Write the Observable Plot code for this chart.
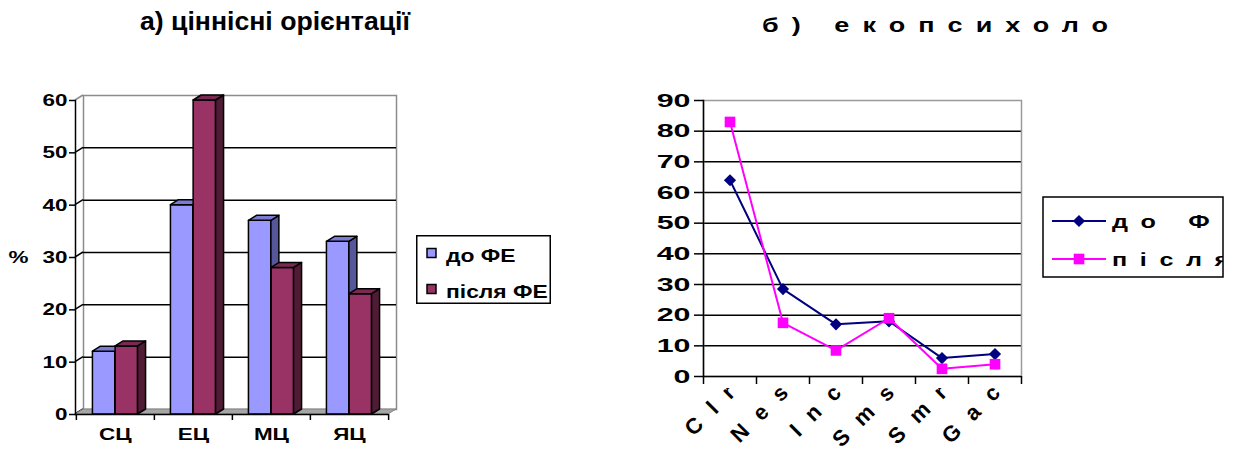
<!DOCTYPE html>
<html lang="uk">
<head>
<meta charset="utf-8">
<script src="https://cdn.jsdelivr.net/npm/d3@7"></script>
<script src="https://cdn.jsdelivr.net/npm/@observablehq/plot@0.6"></script>
<style>
  html, body { margin: 0; background: #fff; }
  #page { position: relative; width: 1238px; height: 452px; overflow: hidden; }
  #page > svg { position: absolute; top: 0; }
</style>
</head>
<body>
<div id="page"></div>
<script>
// Panel а: value orientations, % of respondents
const valueCats = ["СЦ", "ЕЦ", "МЦ", "ЯЦ"];
const valueBefore = [12, 40, 37, 33];
const valueAfter = [13, 60, 28, 23];
const valueTicks = [0, 10, 20, 30, 40, 50, 60];

// Panel б: ecopsychological scales
const ecoCats = ["Clr", "Nes", "Inc", "Sms", "Smr", "Gac"];
const ecoBefore = [64, 28.5, 17, 18, 6, 7.3];
const ecoAfter = [83, 17.5, 8.5, 19, 2.5, 4];
const ecoTicks = [0, 10, 20, 30, 40, 50, 60, 70, 80, 90];

const seriesNames = ["до ФЕ", "після ФЕ"];
const titleA = "а) ціннісні орієнтації";
const titleB = "б) екопсихоло";
const yLabelA = "%";

const barFront = ["#9999ff", "#993366"];
const barTop = ["#7b7bd6", "#7a2952"];
const barSide = ["#56569a", "#4f1b35"];
const lineColors = ["#000080", "#ff00ff"];

const FONT = '"Liberation Sans", Arial, sans-serif';
const SVGNS = "http://www.w3.org/2000/svg";
const depth = [8, -5]; // 3-D offset of the back wall and bar depth
const page = document.getElementById("page");

// widen rendered text glyphs horizontally, keeping each label's anchor in place
function stretchText(texts, sx) {
  texts.forEach(t => {
    const r = t.getBoundingClientRect();
    const anchor = getComputedStyle(t).textAnchor;
    const px = anchor === "end" ? r.right : anchor === "middle" ? (r.left + r.right) / 2 : r.left;
    const py = (r.top + r.bottom) / 2;
    const parent = t.parentNode;
    const p = new DOMPoint(px, py).matrixTransform(parent.getScreenCTM().inverse());
    const g = document.createElementNS(SVGNS, "g");
    g.setAttribute("transform", `translate(${p.x},${p.y}) scale(${sx},1) translate(${-p.x},${-p.y})`);
    parent.insertBefore(g, t);
    g.appendChild(t);
  });
}

// ---------- panel а: 3-D clustered columns ----------
const A = {width: 420, height: 452, left: 75, right: 32, top: 100, bottom: 38};
const bwA = (A.width - A.left - A.right) / valueCats.length;
const rowsA = valueCats.map((cat, i) => ({cat, before: valueBefore[i], after: valueAfter[i]}));

// adds the top and side faces to each rendered column
function box3d(topFill, sideFill) {
  return function (index, scales, values, dimensions, context, next) {
    const g = next(index, scales, values, dimensions, context);
    const [dx, dy] = depth;
    for (const rect of Array.from(g.querySelectorAll("rect"))) {
      const x = +rect.getAttribute("x"), y = +rect.getAttribute("y");
      const w = +rect.getAttribute("width"), h = +rect.getAttribute("height");
      const side = document.createElementNS(SVGNS, "path");
      side.setAttribute("d", `M${x + w},${y}L${x + w + dx},${y + dy}L${x + w + dx},${y + h + dy}L${x + w},${y + h}Z`);
      side.setAttribute("fill", sideFill);
      const top = document.createElementNS(SVGNS, "path");
      top.setAttribute("d", `M${x},${y}L${x + dx},${y + dy}L${x + w + dx},${y + dy}L${x + w},${y}Z`);
      top.setAttribute("fill", topFill);
      rect.after(side, top);
    }
    g.setAttribute("stroke-linejoin", "round");
    return g;
  };
}

// floor and the short connectors from the value axis to the back wall
function wall3d(ticks) {
  return (index, scales, values, dim) => {
    const x0 = dim.marginLeft, x1 = dim.width - dim.marginRight, yb = dim.height - dim.marginBottom;
    const [dx, dy] = depth;
    const g = d3.create("svg:g");
    const topTick = d3.max(ticks);
    for (const t of ticks) {
      const y = scales.y(t);
      g.append("line")
        .attr("x1", x0).attr("y1", y).attr("x2", x0 + dx).attr("y2", y + dy)
        .attr("stroke", t === topTick ? "#8c8c8c" : "#000").attr("stroke-width", 1.5);
    }
    g.append("path")
      .attr("d", `M${x0},${yb}L${x0 + dx},${yb + dy}L${x1 + dx},${yb + dy}L${x1},${yb}Z`)
      .attr("fill", "#a6a6a6").attr("stroke", "#808080").attr("stroke-width", 1);
    return g.node();
  };
}

const plotA = Plot.plot({
  width: A.width, height: A.height,
  marginLeft: A.left, marginRight: A.right, marginTop: A.top, marginBottom: A.bottom,
  style: {fontFamily: FONT, fontSize: "17px", fontWeight: "bold", color: "#000", background: "transparent", overflow: "visible"},
  x: {type: "band", domain: valueCats, padding: 0, axis: null, label: null},
  y: {domain: [0, 60], axis: null, label: null},
  marks: [
    Plot.frame({dx: depth[0], dy: depth[1], fill: "#fff", stroke: "#8c8c8c", strokeWidth: 1.5}),
    Plot.ruleY(valueTicks.slice(1, -1), {dx: depth[0], dy: depth[1], stroke: "#000", strokeWidth: 1.5}),
    wall3d(valueTicks),
    Plot.barY(rowsA, {x: "cat", y: "before", insetLeft: bwA * 0.21, insetRight: bwA * 0.50,
      fill: barFront[0], stroke: "#000", strokeWidth: 1.5, render: box3d(barTop[0], barSide[0])}),
    Plot.barY(rowsA, {x: "cat", y: "after", insetLeft: bwA * 0.50, insetRight: bwA * 0.21,
      fill: barFront[1], stroke: "#000", strokeWidth: 1.5, render: box3d(barTop[1], barSide[1])}),
    Plot.frame({anchor: "left", stroke: "#000", strokeWidth: 1.5}),
    Plot.ruleY([0], {stroke: "#000", strokeWidth: 1.5}),
    Plot.ruleX(valueCats, {x: d => d, y1: 0, y2: 0, dx: -bwA / 2, insetBottom: -6, stroke: "#000", strokeWidth: 1.5}),
    Plot.ruleX(valueCats.slice(-1), {x: d => d, y1: 0, y2: 0, dx: bwA / 2, insetBottom: -6, stroke: "#000", strokeWidth: 1.5}),
    Plot.axisY({ticks: valueTicks, tickSize: 6, tickPadding: 2, strokeWidth: 1.5, fontSize: 17, tickFormat: d => String(d)}),
    Plot.axisX({tickSize: 0, tickPadding: 13, fontSize: 17}),
    Plot.text([yLabelA], {frameAnchor: "left", textAnchor: "middle", dx: -57, fontSize: 17})
  ]
});
plotA.style.left = "0px";
page.appendChild(plotA);
stretchText(Array.from(plotA.querySelectorAll("text")), 1.32);

// ---------- panel б: lines with markers ----------
const B = {x: 620, width: 420, height: 452, left: 83, right: 19, top: 100, bottom: 76};
const bwB = (B.width - B.left - B.right) / ecoCats.length;
const rowsB = ecoCats.map((cat, i) => ({cat, before: ecoBefore[i], after: ecoAfter[i]}));

const plotB = Plot.plot({
  width: B.width, height: B.height,
  marginLeft: B.left, marginRight: B.right, marginTop: B.top, marginBottom: B.bottom,
  style: {fontFamily: FONT, fontSize: "18px", fontWeight: "bold", color: "#000", background: "transparent", overflow: "visible"},
  x: {type: "band", domain: ecoCats, padding: 0, axis: null, label: null},
  y: {domain: [0, 90], axis: null, label: null},
  marks: [
    Plot.ruleY(ecoTicks.slice(1, -1), {stroke: "#000", strokeWidth: 1.5}),
    Plot.frame({stroke: "#9a9a9a", strokeWidth: 1.5}),
    Plot.frame({anchor: "left", stroke: "#000", strokeWidth: 1.5}),
    Plot.ruleY([0], {stroke: "#000", strokeWidth: 1.5}),
    Plot.ruleX(ecoCats, {x: d => d, y1: 0, y2: 0, dx: -bwB / 2, insetBottom: -8, stroke: "#000", strokeWidth: 1.5}),
    Plot.ruleX(ecoCats.slice(-1), {x: d => d, y1: 0, y2: 0, dx: bwB / 2, insetBottom: -8, stroke: "#000", strokeWidth: 1.5}),
    Plot.axisY({ticks: ecoTicks, tickSize: 9, tickPadding: 4, strokeWidth: 1.5, fontSize: 19, tickFormat: d => String(d)}),
    Plot.line(rowsB, {x: "cat", y: "before", stroke: lineColors[0], strokeWidth: 2}),
    Plot.dot(rowsB, {x: "cat", y: "before", symbol: "diamond2", r: 5.5, fill: lineColors[0], stroke: null}),
    Plot.line(rowsB, {x: "cat", y: "after", stroke: lineColors[1], strokeWidth: 2}),
    Plot.dot(rowsB, {x: "cat", y: "after", symbol: "square", r: 6, fill: lineColors[1], stroke: null}),
    Plot.axisX({tickRotate: -45, tickSize: 0, tickPadding: 2, dx: 12, fontSize: 22})
  ]
});
plotB.style.left = B.x + "px";
page.appendChild(plotB);

// spaced-out category labels, cut off just under the axis; wide value labels
{
  const defs = d3.select(plotB).append("defs");
  defs.append("clipPath").attr("id", "eco-clip")
    .append("rect").attr("x", -200).attr("y", B.height - B.bottom + 12).attr("width", B.width + 400).attr("height", 200);
  const groups = new Set();
  const others = [];
  plotB.querySelectorAll("text").forEach(t => {
    if (ecoCats.includes(t.textContent)) groups.add(t.parentNode);
    else others.push(t);
  });
  groups.forEach(g => {
    g.style.letterSpacing = "15px";
    const wrap = document.createElementNS(SVGNS, "g");
    wrap.setAttribute("clip-path", "url(#eco-clip)");
    g.parentNode.insertBefore(wrap, g);
    wrap.appendChild(g);
  });
  stretchText(others, 1.6);
}

// ---------- titles and legends ----------
const over = d3.select(page).append("svg")
  .attr("width", 1238).attr("height", 452)
  .style("left", "0px").style("pointer-events", "none")
  .style("font-family", FONT).style("font-weight", "bold");

over.append("text").attr("x", 275).attr("y", 30).attr("text-anchor", "middle")
  .attr("font-size", 25).attr("textLength", 270).attr("lengthAdjust", "spacingAndGlyphs").text(titleA);
over.append("text").attr("transform", "translate(762,32) scale(1.35,1)")
  .attr("font-size", 20).attr("textLength", 346 / 1.35).attr("lengthAdjust", "spacing").text(titleB);

// legend of panel а
over.append("rect").attr("x", 416.75).attr("y", 235.75).attr("width", 133.5).attr("height", 67.5)
  .attr("fill", "#fff").attr("stroke", "#000").attr("stroke-width", 1.5);
seriesNames.forEach((name, i) => {
  over.append("rect").attr("x", 427).attr("y", 248.5 + i * 36).attr("width", 9).attr("height", 9)
    .attr("fill", barFront[i]).attr("stroke", "#000").attr("stroke-width", 1.5);
  over.append("text").attr("transform", `translate(446,${262 + i * 36}) scale(1.27,1)`)
    .attr("font-size", 18).text(name);
});

// legend of panel б
over.append("defs").append("clipPath").attr("id", "legB-clip")
  .append("rect").attr("x", 1043).attr("y", 197).attr("width", 180).attr("height", 80);
over.append("rect").attr("x", 1043).attr("y", 197).attr("width", 180).attr("height", 80)
  .attr("fill", "#fff").attr("stroke", "#000").attr("stroke-width", 1.5);
const legB = over.append("g").attr("clip-path", "url(#legB-clip)");
const legSymbols = [d3.symbolDiamond2, d3.symbolSquare];
const legSizes = [Math.PI * 5.5 * 5.5, Math.PI * 6 * 6];
seriesNames.forEach((name, i) => {
  const y = 221 + i * 38;
  legB.append("line").attr("x1", 1052).attr("x2", 1106).attr("y1", y).attr("y2", y)
    .attr("stroke", lineColors[i]).attr("stroke-width", 2);
  legB.append("path").attr("transform", `translate(1079,${y})`)
    .attr("d", d3.symbol(legSymbols[i], legSizes[i])()).attr("fill", lineColors[i]);
  legB.append("text").attr("transform", `translate(1112,${y + 7}) scale(1.4,1)`).attr("font-size", 18)
    .style("letter-spacing", "9px").text(name);
});
</script>
</body>
</html>
